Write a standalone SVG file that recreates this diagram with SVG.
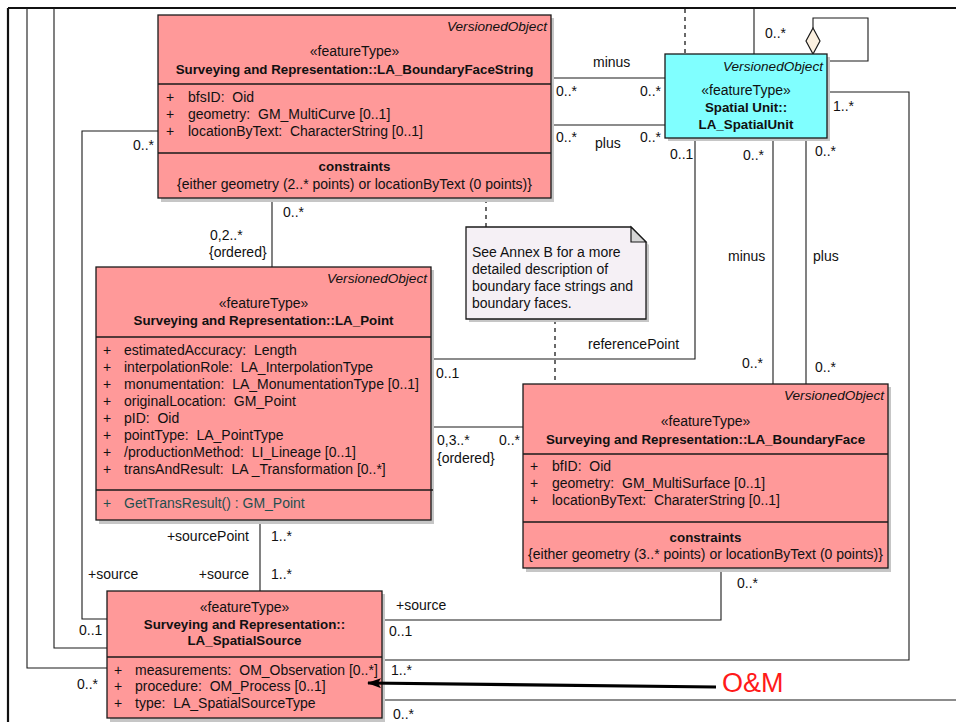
<svg xmlns="http://www.w3.org/2000/svg" width="956" height="722" viewBox="0 0 956 722">
  <defs>
    <style>
      text { font-family: "Liberation Sans", Arial, sans-serif; font-size: 14px; fill: #111; white-space: pre; }
      .it { font-style: italic; font-size: 13.6px; }
      .b { font-weight: bold; font-size: 13.33px; }
      .mid { text-anchor: middle; }
      .end { text-anchor: end; }
      .op { fill: #1f4f4f; }
      .om { fill: #ff1a1a; font-size: 27px; }
      .cls { fill: #ff9999; stroke: #1a1a1a; stroke-width: 1.3; }
      .unit { fill: #80ffff; stroke: #1a1a1a; stroke-width: 1.3; }
      .note { fill: #f5f0f5; stroke: #1a1a1a; stroke-width: 1.3; }
      .shadow { fill: #c6c6c6; }
      .div { stroke: #1a1a1a; stroke-width: 1.3; fill: none; }
      .ln { stroke: #1a1a1a; stroke-width: 1.1; fill: none; }
      .frame { stroke: #111; stroke-width: 2.2; fill: none; }
      .dash { stroke: #1a1a1a; stroke-width: 1.3; fill: none; stroke-dasharray: 4 4; }
      .arrow { stroke: #000; stroke-width: 3.2; fill: none; }
    </style>
    <marker id="head" viewBox="0 0 14 10" refX="13" refY="5" markerWidth="14" markerHeight="10" markerUnits="userSpaceOnUse" orient="auto">
      <path d="M14,5 L0,0 L3,5 L0,10 Z" fill="#000"/>
    </marker>
  </defs>

  <rect width="956" height="722" fill="#fff"/>

  <!-- connectors -->
  <g id="connectors">
    <path class="frame" d="M8,8 H956 M8,8 V722"/>
    <path class="ln" d="M27,8 V668 H107"/>
    <path class="ln" d="M54,8 V648 H107"/>
    <path class="ln" d="M158,131 H82 V619 H107"/>
    <path class="ln" d="M551,78 H665"/>
    <path class="ln" d="M551,125 H665"/>
    <path class="dash" d="M685,9 V54"/>
    <path class="ln" d="M754,9 V54"/>
    <path class="ln" d="M813,28 V18 H868 V61 H827"/>
    <path d="M813,28 L820,41 L813,54 L806,41 Z" fill="#fbf0e0" stroke="#1a1a1a" stroke-width="1.2"/>
    <path class="ln" d="M827,92 H909 V660 H382"/>
    <path class="ln" d="M695,138 V359 H431"/>
    <path class="ln" d="M773,138 V384"/>
    <path class="ln" d="M806,138 V384"/>
    <path class="ln" d="M272,198 V267"/>
    <path class="dash" d="M486,199 V227"/>
    <path class="dash" d="M555,320 V384"/>
    <path class="ln" d="M431,427 H523"/>
    <path class="ln" d="M260,520 V591"/>
    <path class="ln" d="M721,568 V620 H382"/>
    <path class="ln" d="M382,700 H956"/>

    <!-- end labels -->
    <text x="593" y="66.5">minus</text>
    <text x="556" y="95.5">0..*</text>
    <text x="640" y="95.5">0..*</text>
    <text x="556" y="142">0..*</text>
    <text x="595" y="147.5">plus</text>
    <text x="640" y="142">0..*</text>
    <text x="670" y="159">0..1</text>
    <text x="743" y="160">0..*</text>
    <text x="815" y="155.5">0..*</text>
    <text x="833" y="111">1..*</text>
    <text x="765" y="37.5">0..*</text>
    <text x="728" y="260.5">minus</text>
    <text x="813" y="260.5">plus</text>
    <text x="742" y="368">0..*</text>
    <text x="815" y="372">0..*</text>
    <text x="588" y="349">referencePoint</text>
    <text x="436" y="377.5">0..1</text>
    <text x="437" y="445">0,3..*</text>
    <text x="437" y="463">{ordered}</text>
    <text x="499" y="445">0..*</text>
    <text x="283" y="217">0..*</text>
    <text x="210" y="239.5">0,2..*</text>
    <text x="209" y="257">{ordered}</text>
    <text x="133" y="150">0..*</text>
    <text class="end" x="249" y="541">+sourcePoint</text>
    <text x="271" y="541">1..*</text>
    <text class="end" x="249" y="578.5">+source</text>
    <text x="271" y="578.5">1..*</text>
    <text x="88" y="578.5">+source</text>
    <text x="79" y="635">0..1</text>
    <text x="77" y="689">0..*</text>
    <text x="396" y="609.5">+source</text>
    <text x="389" y="635.5">0..1</text>
    <text x="391" y="675">1..*</text>
    <text x="393" y="719">0..*</text>
    <text x="737" y="588">0..*</text>
  </g>

  <!-- LA_BoundaryFaceString -->
  <g id="LA_BoundaryFaceString">
    <rect class="shadow" x="161" y="18" width="393" height="184"/>
    <rect class="cls" x="158" y="15" width="393" height="183"/>
    <path class="div" d="M158,84 H551 M158,153 H551"/>
    <text class="it end" x="547" y="31">VersionedObject</text>
    <text class="mid" x="354.5" y="56">«featureType»</text>
    <text class="b mid" x="354.5" y="74">Surveying and Representation::LA_BoundaryFaceString</text>
    <text x="166" y="102">+</text><text x="188" y="102">bfsID:  Oid</text>
    <text x="166" y="119">+</text><text x="188" y="119">geometry:  GM_MultiCurve [0..1]</text>
    <text x="166" y="136">+</text><text x="188" y="136">locationByText:  CharacterString [0..1]</text>
    <text class="b mid" x="354.5" y="171">constraints</text>
    <text class="mid" x="354.5" y="188.5">{either geometry (2..* points) or locationByText (0 points)}</text>
  </g>

  <!-- LA_SpatialUnit -->
  <g id="LA_SpatialUnit">
    <rect class="shadow" x="668" y="57" width="162" height="84"/>
    <rect class="unit" x="665" y="54" width="162" height="84"/>
    <text class="it end" x="823" y="70.5">VersionedObject</text>
    <text class="mid" x="746" y="95">«featureType»</text>
    <text class="b mid" x="746" y="112">Spatial Unit::</text>
    <text class="b mid" x="746" y="129">LA_SpatialUnit</text>
  </g>

  <!-- annex note -->
  <g id="note">
    <path class="shadow" d="M469,230 H634 L649,245 V322 H469 Z"/>
    <path class="note" d="M466,227 H631 L646,242 V319 H466 Z"/>
    <path d="M631,227 V242 H646 Z" fill="#d6d6d6" stroke="#1a1a1a" stroke-width="1.2"/>
    <text x="472" y="257">See Annex B for a more</text>
    <text x="472" y="274">detailed description of</text>
    <text x="472" y="291">boundary face strings and</text>
    <text x="472" y="308">boundary faces.</text>
  </g>

  <!-- LA_Point -->
  <g id="LA_Point">
    <rect class="shadow" x="99" y="270" width="335" height="254"/>
    <rect class="cls" x="96" y="267" width="335" height="253"/>
    <path class="div" d="M96,337 H431 M96,490 H433"/>
    <text class="it end" x="427" y="283">VersionedObject</text>
    <text class="mid" x="263.5" y="308">«featureType»</text>
    <text class="b mid" x="263.5" y="325">Surveying and Representation::LA_Point</text>
    <text x="103" y="354.5">+</text><text x="124" y="354.5">estimatedAccuracy:  Length</text>
    <text x="103" y="371.5">+</text><text x="124" y="371.5">interpolationRole:  LA_InterpolationType</text>
    <text x="103" y="388.5">+</text><text x="124" y="388.5">monumentation:  LA_MonumentationType [0..1]</text>
    <text x="103" y="405.5">+</text><text x="124" y="405.5">originalLocation:  GM_Point</text>
    <text x="103" y="422.5">+</text><text x="124" y="422.5">pID:  Oid</text>
    <text x="103" y="439.5">+</text><text x="124" y="439.5">pointType:  LA_PointType</text>
    <text x="103" y="456.5">+</text><text x="124" y="456.5">/productionMethod:  LI_Lineage [0..1]</text>
    <text x="103" y="473.5">+</text><text x="124" y="473.5">transAndResult:  LA _Transformation [0..*]</text>
    <text class="op" x="103" y="508">+</text><text class="op" x="124" y="508">GetTransResult() : GM_Point</text>
  </g>

  <!-- LA_BoundaryFace -->
  <g id="LA_BoundaryFace">
    <rect class="shadow" x="526" y="387" width="365" height="185"/>
    <rect class="cls" x="523" y="384" width="365" height="184"/>
    <path class="div" d="M523,454 H888 M523,522 H888"/>
    <text class="it end" x="884" y="400">VersionedObject</text>
    <text class="mid" x="705.5" y="425.5">«featureType»</text>
    <text class="b mid" x="705.5" y="443.5">Surveying and Representation::LA_BoundaryFace</text>
    <text x="530" y="471">+</text><text x="552" y="471">bfID:  Oid</text>
    <text x="530" y="488">+</text><text x="552" y="488">geometry:  GM_MultiSurface [0..1]</text>
    <text x="530" y="505">+</text><text x="552" y="505">locationByText:  CharaterString [0..1]</text>
    <text class="b mid" x="705.5" y="541.5">constraints</text>
    <text class="mid" x="705.5" y="558.5">{either geometry (3..* points) or locationByText (0 points)}</text>
  </g>

  <!-- LA_SpatialSource -->
  <g id="LA_SpatialSource">
    <rect class="shadow" x="110" y="594" width="275" height="128"/>
    <rect class="cls" x="107" y="591" width="275" height="127"/>
    <path class="div" d="M107,657 H382"/>
    <text class="mid" x="244.5" y="612">«featureType»</text>
    <text class="b mid" x="244.5" y="628.5">Surveying and Representation::</text>
    <text class="b mid" x="244.5" y="644.5">LA_SpatialSource</text>
    <text x="114" y="674.5">+</text><text x="135" y="674.5">measurements:  OM_Observation [0..*]</text>
    <text x="114" y="691">+</text><text x="135" y="691">procedure:  OM_Process [0..1]</text>
    <text x="114" y="708">+</text><text x="135" y="708">type:  LA_SpatialSourceType</text>
  </g>

  <!-- O&M annotation arrow, drawn over the source class -->
  <g id="om-callout">
    <path class="arrow" d="M716,687 L368,683" marker-end="url(#head)"/>
    <text class="om" x="722" y="692">O&amp;M</text>
  </g>
</svg>
